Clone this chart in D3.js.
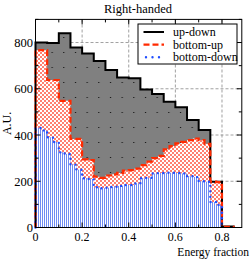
<!DOCTYPE html>
<html>
<head>
<meta charset="utf-8">
<script src="https://cdn.jsdelivr.net/npm/d3@7"></script>
<style>
  body { margin: 0; background: #fff; }
  text { font-family: "Liberation Serif", "DejaVu Serif", serif; fill: #000; }
</style>
</head>
<body>
<div id="chart"></div>
<script>
// up-down: 0.05 wide bins starting at 0
const upDown = [800, 798, 840, 778, 753, 720, 681, 649, 645, 597, 577, 544, 520, 465, 422, 198, 4];
// bottom-up: 0.025 wide bins
const bottomUp = [767, 767, 638, 638, 548, 548, 383, 383, 295, 292, 220, 215, 225, 230, 236, 246,
                  248, 255, 270, 285, 300, 310, 338, 352, 364, 370, 378, 385, 378, 362, 198, 196, 3, 3];
// bottom-down: 0.025 wide bins
const bottomDown = [430, 420, 390, 370, 325, 318, 272, 250, 213, 210, 174, 170, 172, 176, 180, 184,
                    184, 190, 213, 215, 234, 236, 237, 237, 236, 234, 222, 218, 200, 198, 110, 97];
const xTicks = [0, 0.2, 0.4, 0.6, 0.8];
const yTicks = [0, 200, 400, 600, 800];
const legendNames = ["up-down", "bottom-up", "bottom-down"];

const w = 252, h = 259;
const svg = d3.select("#chart").append("svg").attr("width", w).attr("height", h);

const x = d3.scaleLinear().domain([0, 0.885]).range([35.5, 241.8]);
const y = d3.scaleLinear().domain([0, 900]).range([227.5, 19.4]);

// patterns
const defs = svg.append("defs");
const pDots = defs.append("pattern").attr("id", "dots").attr("patternUnits", "userSpaceOnUse")
  .attr("width", 11.67).attr("height", 15);
pDots.append("rect").attr("width", 11.67).attr("height", 15).attr("fill", "#808080");
pDots.append("rect").attr("x", 5).attr("y", 7).attr("width", 1).attr("height", 1).attr("fill", "#000");

const pCheck = defs.append("pattern").attr("id", "check").attr("patternUnits", "userSpaceOnUse")
  .attr("width", 4).attr("height", 4);
pCheck.append("rect").attr("width", 4).attr("height", 4).attr("fill", "#fff");
pCheck.append("rect").attr("width", 2).attr("height", 2).attr("fill", "#ff8070");
pCheck.append("rect").attr("x", 2).attr("y", 2).attr("width", 2).attr("height", 2).attr("fill", "#ff8070");

const pStripe = defs.append("pattern").attr("id", "stripe").attr("patternUnits", "userSpaceOnUse")
  .attr("width", 2).attr("height", 4);
pStripe.append("rect").attr("width", 2).attr("height", 4).attr("fill", "#fff");
pStripe.append("rect").attr("width", 1).attr("height", 4).attr("fill", "#6f8cf2");

// grid
const grid = svg.append("g");
grid.selectAll(".gx").data(xTicks.slice(1)).enter().append("line")
  .attr("x1", d => x(d)).attr("x2", d => x(d)).attr("y1", y.range()[0]).attr("y2", y.range()[1])
  .attr("stroke", "#888").attr("stroke-width", 0.8).attr("stroke-dasharray", "3,2");
grid.selectAll(".gy").data(yTicks.slice(1)).enter().append("line")
  .attr("y1", d => y(d)).attr("y2", d => y(d)).attr("x1", x.range()[0]).attr("x2", x.range()[1])
  .attr("stroke", "#888").attr("stroke-width", 0.8).attr("stroke-dasharray", "3,2");

const toPoints = (vals, bw) => {
  const pts = [[0, 0]];
  vals.forEach((v, i) => pts.push([i * bw, v]));
  pts.push([vals.length * bw, vals[vals.length - 1]]);
  pts.push([vals.length * bw, 0]);
  return pts;
};

const area = d3.area().curve(d3.curveStepAfter)
  .x(d => x(d[0])).y0(y(0)).y1(d => y(d[1]));
const line = d3.line().curve(d3.curveStepAfter)
  .x(d => x(d[0])).y(d => y(d[1]));

const udPts = toPoints(upDown, 0.05);
const buPts = toPoints(bottomUp, 0.025);
const bdPts = toPoints(bottomDown, 0.025);

svg.append("path").attr("d", area(udPts)).attr("fill", "url(#dots)");
svg.append("path").attr("d", area(buPts)).attr("fill", "url(#check)");
svg.append("path").attr("d", area(bdPts)).attr("fill", "url(#stripe)");

svg.append("path").attr("d", line(udPts)).attr("fill", "none")
  .attr("stroke", "#000").attr("stroke-width", 2);
svg.append("path").attr("d", line(buPts)).attr("fill", "none")
  .attr("stroke", "#ff2a00").attr("stroke-width", 2.2).attr("stroke-dasharray", "6,3");
svg.append("path").attr("d", line(bdPts)).attr("fill", "none")
  .attr("stroke", "#1f4dff").attr("stroke-width", 2.4).attr("stroke-linecap", "round")
  .attr("stroke-dasharray", "0,5.5");

// axes with inward ticks on all sides
const x0 = x.range()[0], x1 = x.range()[1], y0 = y.range()[0], y1 = y.range()[1];
const ax = svg.append("g");
const xMinor = d3.range(0, 0.81, 0.1);
const yMinor = d3.range(0, 901, 100);
xMinor.forEach(t => {
  const len = xTicks.some(v => Math.abs(v - t) < 1e-6) ? 5 : 3;
  ax.append("line").attr("x1", x(t)).attr("x2", x(t)).attr("y1", y0).attr("y2", y0 - len).attr("stroke", "#000");
  ax.append("line").attr("x1", x(t)).attr("x2", x(t)).attr("y1", y1).attr("y2", y1 + len).attr("stroke", "#000");
});
yMinor.forEach(t => {
  const len = yTicks.includes(t) ? 5 : 3;
  ax.append("line").attr("y1", y(t)).attr("y2", y(t)).attr("x1", x0).attr("x2", x0 + len).attr("stroke", "#000");
  ax.append("line").attr("y1", y(t)).attr("y2", y(t)).attr("x1", x1).attr("x2", x1 - len).attr("stroke", "#000");
});
svg.append("rect").attr("x", x0).attr("y", y1).attr("width", x1 - x0).attr("height", y0 - y1)
  .attr("fill", "none").attr("stroke", "#000").attr("stroke-width", 1);

svg.selectAll(".xl").data(xTicks).enter().append("text")
  .attr("x", d => x(d)).attr("y", 240.5).attr("text-anchor", "middle")
  .attr("font-size", 12).text(d => d === 0 ? "0" : d3.format(".1f")(d));
svg.selectAll(".yl").data(yTicks).enter().append("text")
  .attr("x", 33).attr("y", d => y(d) + 4.5).attr("text-anchor", "end")
  .attr("font-size", 12.5).text(d => d);

svg.append("text").attr("x", 138).attr("y", 13).attr("text-anchor", "middle")
  .attr("font-size", 12.5).text("Right-handed");
svg.append("text").attr("x", 249).attr("y", 255.5).attr("text-anchor", "end")
  .attr("font-size", 11.5).text("Energy fraction");
svg.append("text").attr("transform", "translate(11," + ((y0 + y1) / 2) + ") rotate(-90)")
  .attr("text-anchor", "middle").attr("font-size", 12).text("A.U.");

// legend
const lg = svg.append("g");
lg.append("rect").attr("x", 138).attr("y", 24).attr("width", 99).attr("height", 40)
  .attr("fill", "#fff").attr("stroke", "#000").attr("stroke-width", 1);
const lgStyles = [
  { stroke: "#000", width: 2, dash: null, cap: "butt" },
  { stroke: "#ff2a00", width: 2.2, dash: "6,3", cap: "butt" },
  { stroke: "#1f4dff", width: 2.4, dash: "0,6.5", cap: "round" }
];
legendNames.forEach((name, i) => {
  const ly = 32 + i * 12.6;
  const s = lgStyles[i];
  const ln = lg.append("line").attr("x1", i === 2 ? 146 : 143.5).attr("x2", 164).attr("y1", ly).attr("y2", ly)
    .attr("stroke", s.stroke).attr("stroke-width", s.width).attr("stroke-linecap", s.cap);
  if (s.dash) ln.attr("stroke-dasharray", s.dash);
  lg.append("text").attr("x", 173).attr("y", ly + 4).attr("font-size", 12).text(name);
});
</script>
</body>
</html>
